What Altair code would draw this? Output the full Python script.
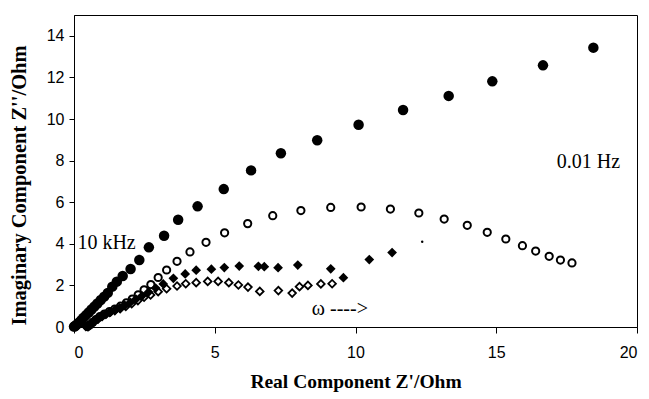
import altair as alt
import pandas as pd

# Filled circles
fc_x = [0.0, 0.03, 0.07, 0.12, 0.18, 0.25, 0.33, 0.42, 0.52, 0.62, 0.72, 0.83, 0.95, 1.07, 1.2,
        1.36, 1.52, 1.73, 2.01, 2.32, 2.66, 3.20, 3.70, 4.39, 5.32, 6.29, 7.35, 8.64, 10.11,
        11.69, 13.31, 14.86, 16.66, 18.45]
fc_y = [0.02, 0.04, 0.08, 0.14, 0.22, 0.32, 0.44, 0.56, 0.70, 0.84, 0.98, 1.13, 1.30, 1.46, 1.64,
        1.94, 2.18, 2.45, 2.79, 3.22, 3.83, 4.39, 5.16, 5.80, 6.63, 7.53, 8.35, 8.98, 9.72,
        10.43, 11.11, 11.81, 12.58, 13.43]

# Open circles
oc_x = [0.48, 0.56, 0.66, 0.78, 0.92, 1.08, 1.26, 1.45, 1.65, 1.86, 2.07, 2.28, 2.49, 2.73,
        2.99, 3.29, 3.66, 4.12, 4.69, 5.35, 6.17, 7.06, 8.06, 9.12, 10.20, 11.24, 12.25, 13.15,
        13.97, 14.68, 15.34, 15.93, 16.40, 16.88, 17.28, 17.69]
oc_y = [0.02, 0.10, 0.22, 0.36, 0.50, 0.62, 0.74, 0.86, 1.00, 1.16, 1.34, 1.55, 1.79, 2.04,
        2.38, 2.74, 3.16, 3.61, 4.07, 4.53, 4.97, 5.35, 5.60, 5.75, 5.77, 5.67, 5.48, 5.19,
        4.89, 4.55, 4.23, 3.91, 3.65, 3.40, 3.22, 3.08]

# Filled diamonds
fd_x = [0.42, 0.50, 0.60, 0.72, 0.85, 1.00, 1.15, 1.30, 1.46, 1.62, 1.80, 2.00, 2.20, 2.42,
        2.65, 2.90, 3.17, 3.53, 3.95, 4.34, 4.88, 5.34, 5.87, 6.55, 6.76, 7.25, 7.95, 9.12,
        9.57, 10.49, 11.30]
fd_y = [0.02, 0.08, 0.16, 0.26, 0.37, 0.50, 0.62, 0.72, 0.82, 0.92, 1.04, 1.18, 1.34, 1.50,
        1.68, 1.87, 2.07, 2.34, 2.55, 2.73, 2.78, 2.86, 2.93, 2.92, 2.90, 2.85, 2.98, 2.80,
        2.37, 3.24, 3.58]

# Open diamonds
od_x = [0.50, 0.58, 0.68, 0.80, 0.95, 1.10, 1.27, 1.45, 1.64, 1.84, 2.05, 2.27, 2.49, 2.72,
        2.99, 3.29, 3.66, 3.97, 4.34, 4.75, 5.12, 5.50, 5.84, 6.18, 6.60, 7.26, 7.75, 8.01,
        8.31, 8.77, 9.17]
od_y = [0.02, 0.12, 0.25, 0.38, 0.50, 0.60, 0.70, 0.79, 0.88, 0.99, 1.12, 1.27, 1.43, 1.54,
        1.70, 1.84, 1.97, 2.08, 2.13, 2.19, 2.19, 2.13, 2.02, 1.92, 1.71, 1.75, 1.63, 1.94,
        2.00, 2.07, 2.08]

# Stray small dot
dot_x = [12.37]
dot_y = [4.10]

# Annotations
ann_text = ["10 kHz", "0.01 Hz", "ω ---->"]
ann_x = [0.12, 17.15, 8.45]
ann_y = [4.02, 7.95, 0.87]

x_ticks = [0, 5, 10, 15, 20]
y_ticks = [0, 2, 4, 6, 8, 10, 12, 14]


def frame(xs, ys):
    return pd.DataFrame({"x": xs, "y": ys})


xscale = alt.Scale(domain=[0, 20], nice=False, zero=False)
yscale = alt.Scale(domain=[0, 15], nice=False, zero=False)

xaxis = alt.Axis(values=x_ticks, title="Real Component Z'/Ohm", grid=False,
                 labelFont="Liberation Sans", labelFontSize=16, labelColor="black",
                 labelPadding=11, tickSize=6, tickColor="black", domainColor="black",
                 titleFont="Liberation Serif", titleFontSize=19.5, titleFontWeight="bold",
                 titleColor="black", titlePadding=12)
yaxis = alt.Axis(values=y_ticks, title="Imaginary Component Z''/Ohm", grid=False,
                 labelFont="Liberation Sans", labelFontSize=16, labelColor="black",
                 labelPadding=5, tickSize=5, tickColor="black", domainColor="black",
                 titleFont="Liberation Serif", titleFontSize=20.5, titleFontWeight="bold",
                 titleColor="black", titlePadding=17, titleY=170)


def enc(chart):
    return chart.encode(x=alt.X("x:Q", scale=xscale, axis=xaxis),
                        y=alt.Y("y:Q", scale=yscale, axis=yaxis))


fc = enc(alt.Chart(frame(fc_x, fc_y)).mark_point(shape="circle", filled=True, size=110,
                                                    color="black", opacity=1))
oc = enc(alt.Chart(frame(oc_x, oc_y)).mark_point(shape="circle", filled=False, size=52,
                                                    color="black", strokeWidth=2, opacity=1))
fd = enc(alt.Chart(frame(fd_x, fd_y)).mark_point(shape="diamond", filled=True, size=95,
                                                    color="black", opacity=1))
od = enc(alt.Chart(frame(od_x, od_y)).mark_point(shape="diamond", filled=False, size=58,
                                                    color="black", strokeWidth=1.8, opacity=1))
dot = enc(alt.Chart(frame(dot_x, dot_y)).mark_point(shape="circle", filled=True, size=6,
                                                       color="black", opacity=1))

ann = alt.Chart(pd.DataFrame({"x": ann_x, "y": ann_y, "t": ann_text})).mark_text(
    align="left", baseline="middle", font="Liberation Serif", fontSize=20, color="black"
).encode(x=alt.X("x:Q", scale=xscale), y=alt.Y("y:Q", scale=yscale), text="t:N")

chart = alt.layer(fc, oc, fd, od, dot, ann).properties(
    width=563, height=312,
    autosize=alt.AutoSizeParams(type="none"),
    padding={"left": 74, "top": 15, "right": 12, "bottom": 72},
    background="white",
).configure_view(stroke="black", strokeWidth=1)

chart.save("out.html", embed_options={"renderer": "svg", "actions": False})
